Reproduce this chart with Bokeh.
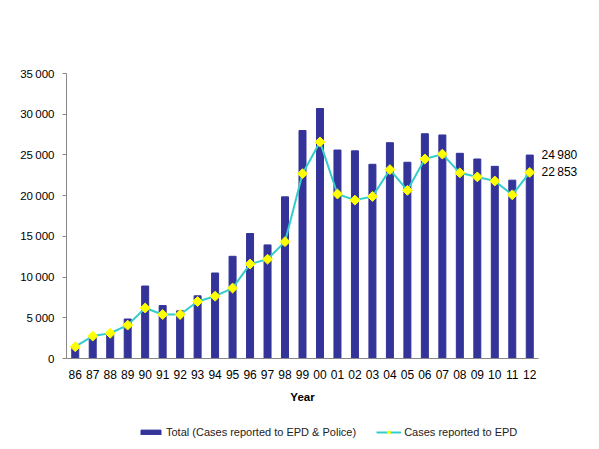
import math
from bokeh.plotting import figure
from bokeh.layouts import column
from bokeh.models import (Range1d, FactorRange, Legend, LegendItem, CustomJSTickFormatter,
                          ColumnDataSource, LinearAxis, FixedTicker)
from bokeh.embed import file_html
from bokeh.resources import INLINE

years = ["86","87","88","89","90","91","92","93","94","95","96","97","98","99",
         "00","01","02","03","04","05","06","07","08","09","10","11","12"]
total = [1500, 2700, 3200, 4850, 8900, 6500, 5850, 7700, 10500, 12550, 15350, 13950, 19850, 28000,
         30700, 25600, 25500, 23850, 26500, 24100, 27600, 27450, 25200, 24500, 23600, 21900, 24980]
epd = [1450, 2750, 3100, 4100, 6200, 5400, 5400, 7000, 7650, 8650, 11600, 12200, 14350, 22700,
       26600, 20200, 19450, 19900, 23200, 20650, 24500, 25100, 22800, 22300, 21800, 20100, 22853]
y_ticks = [0, 5000, 10000, 15000, 20000, 25000, 30000, 35000]
end_values = [total[-1], epd[-1]]
legend_labels = ["Total (Cases reported to EPD & Police)", "Cases reported to EPD"]

BAR = "#333399"
LINE = "#33CCCC"
MARK = "#FFFF00"
FONT = "Liberation Sans"

src = ColumnDataSource(dict(year=years, total=total, epd=epd))
fmt_code = "return tick.toString().replace(/\\B(?=(\\d{3})+(?!\\d))/g, '\\u2009');"


def draw(fig, source):
    b = fig.vbar(x="year", top="total", width=0.4, source=source, fill_color=BAR, line_color=BAR)
    l = fig.line(x="year", y="epd", source=source, line_color=LINE, line_width=2)
    m = fig.scatter(x="year", y="epd", source=source, marker="square", angle=math.pi / 4, size=7,
                    fill_color=MARK, line_color=MARK)
    return b, l, m


p = figure(width=591, height=415, output_backend="svg", toolbar_location=None,
           x_range=FactorRange(*years, range_padding=0), y_range=Range1d(0, 35000),
           min_border_left=66, min_border_right=53, min_border_top=73, min_border_bottom=57)
p.outline_line_color = None
p.grid.visible = False
draw(p, src)

p.yaxis.ticker = y_ticks
p.yaxis.formatter = CustomJSTickFormatter(code=fmt_code)
p.yaxis.major_label_text_font = FONT
p.yaxis.major_label_text_font_size = "11.5px"
p.yaxis.major_label_text_color = "#000000"
p.yaxis.axis_line_color = "#888888"
p.yaxis.major_tick_line_color = "#888888"
p.yaxis.major_tick_in = 0
p.yaxis.major_tick_out = 4
p.yaxis.minor_tick_line_color = None
p.yaxis.major_label_standoff = 8

p.xaxis.axis_line_color = "#888888"
p.xaxis.major_tick_line_color = None
p.xaxis.minor_tick_line_color = None
p.xaxis.major_label_text_font = FONT
p.xaxis.major_label_text_font_size = "12px"
p.xaxis.major_label_text_color = "#000000"
p.xaxis.major_label_standoff = 5
p.xaxis.axis_label = "Year"
p.xaxis.axis_label_text_font = FONT
p.xaxis.axis_label_text_font_size = "11.5px"
p.xaxis.axis_label_text_font_style = "bold"
p.xaxis.axis_label_text_color = "#000000"
p.xaxis.axis_label_standoff = 9

end_axis = LinearAxis(ticker=FixedTicker(ticks=end_values), formatter=CustomJSTickFormatter(code=fmt_code),
                      axis_line_color=None, major_tick_line_color=None, minor_tick_line_color=None,
                      major_tick_in=0, major_tick_out=0,
                      major_label_standoff=3, major_label_text_font=FONT,
                      major_label_text_font_size="12px", major_label_text_color="#000000")
p.add_layout(end_axis, "right")

# legend strip below the chart (frame aligned with the chart's frame by the column layout);
# its y range lies far above the data, so its renderers only serve the legend swatches
p2 = figure(width=591, height=26, output_backend="svg", toolbar_location=None,
            x_range=FactorRange(*years, range_padding=0), y_range=Range1d(100000, 100001),
            x_axis_type=None, y_axis_type=None, min_border=0)
p2.outline_line_color = None
p2.grid.visible = False
b2, l2, m2 = draw(p2, src)
legend = Legend(items=[LegendItem(label=legend_labels[0], renderers=[b2]),
                       LegendItem(label=legend_labels[1], renderers=[l2, m2])],
                orientation="horizontal", location=(72, 3), border_line_color=None,
                background_fill_alpha=0, label_text_font=FONT, label_text_font_size="11px",
                label_text_color="#222222",
                glyph_width=25, glyph_height=6, label_standoff=3, spacing=20, padding=0, margin=0,
                label_height=12)
p2.add_layout(legend, "center")

open("out.html", "w").write(file_html(column(p, p2, spacing=0), INLINE))
